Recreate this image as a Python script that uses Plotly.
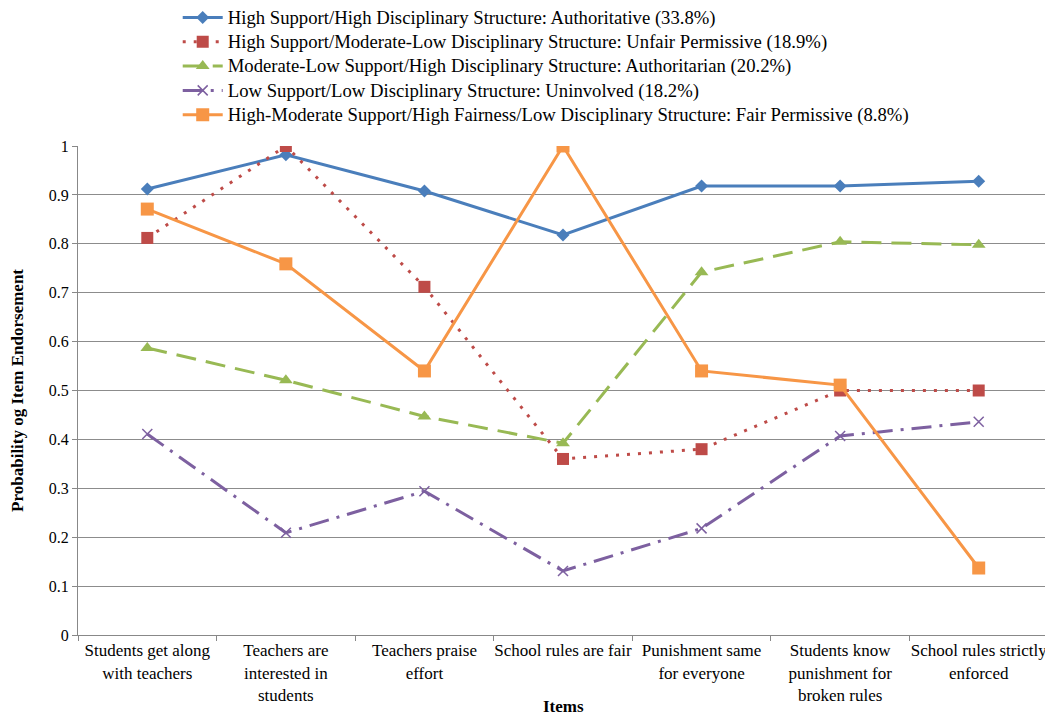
import plotly.graph_objects as go

categories = [
    "Students get along<br>with teachers",
    "Teachers are<br>interested in<br>students",
    "Teachers praise<br>effort",
    "School rules are fair",
    "Punishment same<br>for everyone",
    "Students know<br>punishment for<br>broken rules",
    "School rules strictly<br>enforced",
]

series_names = [
    "High Support/High Disciplinary Structure: Authoritative (33.8%)",
    "High Support/Moderate-Low Disciplinary Structure: Unfair Permissive (18.9%)",
    "Moderate-Low Support/High Disciplinary Structure: Authoritarian (20.2%)",
    "Low Support/Low Disciplinary Structure: Uninvolved (18.2%)",
    "High-Moderate Support/High Fairness/Low Disciplinary Structure: Fair Permissive (8.8%)",
]

authoritative = [0.912, 0.982, 0.908, 0.818, 0.918, 0.918, 0.928]
unfair_permissive = [0.812, 1.0, 0.712, 0.36, 0.38, 0.50, 0.50]
authoritarian = [0.587, 0.521, 0.447, 0.392, 0.742, 0.804, 0.798]
uninvolved = [0.411, 0.209, 0.294, 0.131, 0.218, 0.407, 0.436]
fair_permissive = [0.871, 0.759, 0.540, 1.0, 0.540, 0.511, 0.137]

values = [authoritative, unfair_permissive, authoritarian, uninvolved, fair_permissive]
colors = ["#4A7EBB", "#BE4B48", "#98B954", "#7D60A0", "#F79646"]
dashes = ["solid", "3px,8px", "20px,10px", "20px,8px,3px,8px", "solid"]
symbols = ["diamond", "square", "triangle-up", "x-thin", "square"]
sizes = [10, 12, 12, 10, 13]

FONT = "Times New Roman, Liberation Serif, serif"

fig = go.Figure()
for name, vals, c, d, s, sz in zip(series_names, values, colors, dashes, symbols, sizes):
    marker = dict(symbol=s, size=sz, color=c)
    if s == "x-thin":
        marker["line"] = dict(color=c, width=1.5)
    fig.add_trace(go.Scatter(
        x=categories, y=vals, mode="lines+markers",
        name="<span style='font-size:18.7px'>" + name + "</span>",
        line=dict(color=c, width=3, dash=d), marker=marker,
    ))

fig.update_layout(
    width=1045, height=711,
    margin=dict(l=70, r=5, t=138, b=84, autoexpand=False),
    paper_bgcolor="white", plot_bgcolor="white",
    font=dict(family=FONT, size=16, color="black"),
    legend=dict(
        x=0.1028, y=1.298, xanchor="left", yanchor="top",
        font=dict(family=FONT, size=16.4, color="black"),
        bgcolor="rgba(0,0,0,0)", tracegroupgap=0, itemwidth=40,
    ),
    showlegend=True,
    annotations=[
        dict(text="<b>Items</b>", xref="paper", yref="paper", x=0.5, y=-0.147,
             xanchor="center", yanchor="middle", showarrow=False,
             font=dict(family=FONT, size=17, color="black")),
        dict(text="<b>Probability og Item Endorsement</b>", xref="paper", yref="paper",
             x=-0.0625, y=0.5, xanchor="center", yanchor="middle", textangle=-90,
             showarrow=False, font=dict(family=FONT, size=17, color="black")),
    ],
)
fig.update_xaxes(
    type="category", tickson="boundaries", ticks="outside", ticklen=5,
    tickcolor="#888888", showline=True, linecolor="#888888", linewidth=1,
    showgrid=False, tickfont=dict(family=FONT, size=17), automargin=False,
    range=[-0.5, 6.5], tickangle=0,
)
fig.update_yaxes(
    range=[0, 1], dtick=0.1, tickformat=".1~f", ticks="outside", ticklen=5,
    tickcolor="#888888", showline=True, linecolor="#888888", linewidth=1,
    showgrid=True, gridcolor="#8C8C8C", gridwidth=1, automargin=False,
    tickfont=dict(family=FONT, size=16), zeroline=False,
)

fig.write_html("out.html")
